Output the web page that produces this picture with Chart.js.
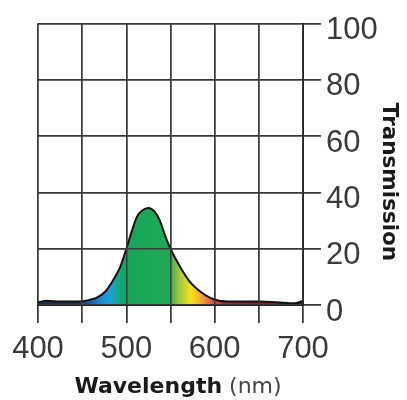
<!DOCTYPE html>
<html>
<head>
<meta charset="utf-8">
<script src="https://cdn.jsdelivr.net/npm/chart.js@4"></script>
<style>
    body { margin: 0; background: #fff; }
    #wrap { width: 407px; height: 400px; position: relative; }
</style>
</head>
<body>
<div id="wrap"><canvas id="filterChart"></canvas></div>
<script>
// Data
const wavelengths = [400, 410, 425, 440, 450, 458, 466, 476, 485, 493, 500, 504, 508, 512, 518, 525, 532, 538, 544, 550, 561, 572, 584, 595, 605, 620, 650, 670, 690, 700];
const transmission = [1, 1.5, 1.2, 1.2, 1.3, 1.8, 2.5, 4.7, 8.8, 13.5, 20, 24, 28, 31.4, 33.6, 34.5, 33.2, 30, 24.6, 20, 13.5, 8.2, 4.7, 2.5, 1.5, 1.2, 1.2, 1.0, 0.6, 1.5];
const xLabels = [400, 500, 600, 700];
const yLabels = [0, 20, 40, 60, 80, 100];

// spectrum colours along the wavelength axis
const spectrum = [
    [400, '#1d2b4e'], [445, '#1f3462'], [458, '#1f5a9c'], [470, '#1e8ad2'],
    [482, '#19a2d6'], [492, '#15a77e'], [500, '#14a65a'], [548, '#22a855'],
    [560, '#a5c63e'], [573, '#f5e31b'], [586, '#f3a03a'], [597, '#dc5a40'],
    [610, '#a82638'], [680, '#7e1a32'], [700, '#402042']
];

function spectrumFill(context) {
    const chart = context.chart;
    if (!chart.chartArea) return '#14a65a';
    const xs = chart.scales.x;
    const x0 = xs.getPixelForValue(400), x1 = xs.getPixelForValue(700);
    const g = chart.ctx.createLinearGradient(x0, 0, x1, 0);
    spectrum.forEach(([w, c]) => g.addColorStop((w - 400) / 300, c));
    return g;
}

// redraw the grid over the filled area, then put titles on
const overlay = {
    id: 'overlay',
    afterDatasetsDraw(chart) {
        chart.scales.x.drawGrid(chart.chartArea);
        chart.scales.y.drawGrid(chart.chartArea);
    },
    afterDraw(chart) {
        const c = chart.ctx;
        c.save();
        c.fillStyle = '#1a1a1a';
        c.textBaseline = 'alphabetic';
        // x title: bold word + regular unit
        const bold = 'bold 22px "DejaVu Sans"';
        const reg = '22px "DejaVu Sans"';
        c.font = bold;
        const w1 = c.measureText('Wavelength').width;
        c.font = reg;
        const w2 = c.measureText(' (nm)').width;
        let x = 178 - (w1 + w2) / 2;
        c.font = bold;
        c.fillText('Wavelength', x, 393);
        c.font = reg;
        c.fillStyle = '#444';
        c.fillText(' (nm)', x + w1, 393);
        // y title, reading downwards
        c.translate(383, 182);
        c.rotate(Math.PI / 2);
        c.font = 'bold 21.5px "DejaVu Sans"';
        c.fillStyle = '#1a1a1a';
        c.textAlign = 'center';
        c.fillText('Transmission', 0, 0);
        c.restore();
    }
};

const gridColor = '#3a3a3a';
const tickFont = { family: '"Liberation Sans", Arial, sans-serif', size: 31 };

new Chart(document.getElementById('filterChart'), {
    type: 'line',
    data: {
        datasets: [{
            data: wavelengths.map((w, i) => ({ x: w, y: transmission[i] })),
            borderColor: '#111',
            borderWidth: 2,
            backgroundColor: spectrumFill,
            fill: 'origin',
            pointRadius: 0,
            cubicInterpolationMode: 'monotone'
        }]
    },
    options: {
        responsive: true,
        maintainAspectRatio: false,
        animation: false,
        layout: { padding: { left: 38, top: 21, right: 0, bottom: 0 } },
        plugins: { legend: { display: false }, tooltip: { enabled: false } },
        scales: {
            x: {
                type: 'linear',
                min: 400,
                max: 700,
                afterFit(scale) { scale.height = 95; },
                ticks: {
                    stepSize: 50,
                    padding: 8,
                    color: '#3a3a3a',
                    font: tickFont,
                    maxRotation: 0,
                    autoSkip: false,
                    callback: v => xLabels.includes(v) ? String(v) : ''
                },
                grid: { color: gridColor, lineWidth: 1.5, tickLength: 18, tickColor: gridColor },
                border: { color: '#111', width: 2 }
            },
            y: {
                position: 'right',
                min: 0,
                max: 100,
                afterFit(scale) { scale.width = 104; },
                ticks: {
                    stepSize: 20,
                    padding: 5,
                    labelOffset: 7,
                    color: '#3a3a3a',
                    font: tickFont,
                    callback: v => yLabels.includes(v) ? String(v) : ''
                },
                grid: { color: gridColor, lineWidth: 1.5, tickLength: 18, tickColor: gridColor },
                border: { color: '#111', width: 2 }
            }
        }
    },
    plugins: [overlay]
});
</script>
</body>
</html>
